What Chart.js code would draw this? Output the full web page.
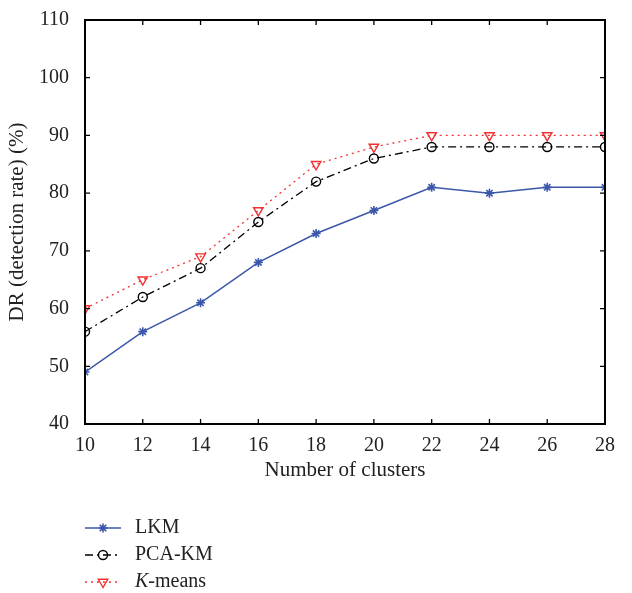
<!DOCTYPE html>
<html lang="en">
<head>
  <meta charset="UTF-8" />
  <title>DR vs number of clusters</title>
  <script src="https://cdn.jsdelivr.net/npm/chart.js@4.4.1/dist/chart.umd.min.js"></script>
  <style>
    html, body { margin: 0; padding: 0; background: #fff; }
    #wrap { width: 632px; height: 593px; position: relative; }
  </style>
</head>
<body>
  <div id="wrap"><canvas id="drChart"></canvas></div>

  <script>
    // Number of clusters on the x axis
    const clusters = [10, 12, 14, 16, 18, 20, 22, 24, 26, 28];

    // Detection rate (%) for each method
    const lkm = [49, 56, 61, 68, 73, 77, 81, 80, 81, 81];
    const pcaKm = [56, 62, 67, 75, 82, 86, 88, 88, 88, 88];
    const kMeans = [60, 65, 69, 77, 85, 88, 90, 90, 90, 90];

    const xTicks = [10, 12, 14, 16, 18, 20, 22, 24, 26, 28];
    const yTicks = [40, 50, 60, 70, 80, 90, 100, 110];

    const FONT = '"Liberation Serif", "DejaVu Serif", serif';
    const FS = 20;

    const toPoints = vals => vals.map((v, i) => ({ x: clusters[i], y: v }));

    // Box around the plot with short inward ticks on all four sides
    const framePlugin = {
      id: 'frame',
      afterDraw(chart) {
        const { ctx, chartArea: a, scales: { x, y } } = chart;
        const len = 5;
        ctx.save();
        ctx.strokeStyle = '#000';
        ctx.lineWidth = 2;
        ctx.strokeRect(a.left, a.top, a.right - a.left, a.bottom - a.top);
        ctx.lineWidth = 1.3;
        ctx.beginPath();
        xTicks.forEach(t => {
          const px = x.getPixelForValue(t);
          ctx.moveTo(px, a.bottom); ctx.lineTo(px, a.bottom - len);
          ctx.moveTo(px, a.top); ctx.lineTo(px, a.top + len);
        });
        yTicks.forEach(t => {
          const py = y.getPixelForValue(t);
          ctx.moveTo(a.left, py); ctx.lineTo(a.left + len, py);
          ctx.moveTo(a.right, py); ctx.lineTo(a.right - len, py);
        });
        ctx.stroke();
        ctx.restore();
      }
    };

    // Legend below the axis: short line sample with marker, then the label
    const legendPlugin = {
      id: 'lineLegend',
      afterDraw(chart) {
        const { ctx, chartArea: a } = chart;
        const x0 = a.left, x1 = a.left + 36, tx = a.left + 50;
        const rows = [a.bottom + 104, a.bottom + 131, a.bottom + 158];
        ctx.save();
        chart.data.datasets.forEach((ds, i) => {
          const yy = rows[i];
          ctx.strokeStyle = ds.borderColor;
          ctx.lineWidth = ds.borderWidth;
          ctx.setLineDash(ds.borderDash || []);
          ctx.beginPath();
          ctx.moveTo(x0, yy); ctx.lineTo(x1, yy);
          ctx.stroke();
          ctx.setLineDash([]);
          ctx.strokeStyle = ds.pointBorderColor;
          ctx.fillStyle = ds.pointBackgroundColor;
          ctx.lineWidth = ds.pointBorderWidth;
          Chart.helpers.drawPoint(ctx, {
            pointStyle: ds.pointStyle,
            radius: ds.pointRadius,
            rotation: ds.pointRotation || 0,
            borderWidth: ds.pointBorderWidth
          }, (x0 + x1) / 2, yy);

          ctx.fillStyle = '#222';
          ctx.textBaseline = 'middle';
          ctx.textAlign = 'left';
          if (ds.label === 'K-means') {
            ctx.font = 'italic ' + FS + 'px ' + FONT;
            ctx.fillText('K', tx, yy);
            const w = ctx.measureText('K').width;
            ctx.font = FS + 'px ' + FONT;
            ctx.fillText('-means', tx + w, yy);
          } else {
            ctx.font = FS + 'px ' + FONT;
            ctx.fillText(ds.label, tx, yy);
          }
        });
        ctx.restore();
      }
    };

    new Chart(document.getElementById('drChart'), {
      type: 'line',
      data: {
        datasets: [
          {
            label: 'LKM',
            data: toPoints(lkm),
            borderColor: '#3a57aa',
            borderWidth: 1.5,
            pointStyle: 'star',
            pointRadius: 4.5,
            pointBorderColor: '#3a57aa',
            pointBackgroundColor: '#3a57aa',
            pointBorderWidth: 1.6,
            tension: 0
          },
          {
            label: 'PCA-KM',
            data: toPoints(pcaKm),
            borderColor: '#000',
            borderWidth: 1.3,
            borderDash: [8, 4, 2, 4],
            pointStyle: 'circle',
            pointRadius: 4.5,
            pointBorderColor: '#000',
            pointBackgroundColor: 'rgba(0,0,0,0)',
            pointBorderWidth: 1.4,
            tension: 0
          },
          {
            label: 'K-means',
            data: toPoints(kMeans),
            borderColor: '#f23232',
            borderWidth: 1.3,
            borderDash: [2, 4],
            pointStyle: 'triangle',
            pointRotation: 180,
            pointRadius: 5.5,
            pointBorderColor: '#f23232',
            pointBackgroundColor: 'rgba(0,0,0,0)',
            pointBorderWidth: 1.4,
            tension: 0
          }
        ]
      },
      options: {
        responsive: true,
        maintainAspectRatio: false,
        animation: false,
        layout: { padding: { left: 0, right: 27, top: 14, bottom: 107 } },
        plugins: {
          legend: { display: false },
          tooltip: { enabled: false }
        },
        scales: {
          x: {
            type: 'linear',
            min: 10,
            max: 28,
            afterBuildTicks: s => { s.ticks = xTicks.map(v => ({ value: v })); },
            afterFit: s => { s.height = 62; },
            grid: { display: false },
            border: { display: false },
            ticks: { color: '#222', padding: 2, font: { family: FONT, size: FS } },
            title: {
              display: true,
              text: 'Number of clusters',
              color: '#222',
              padding: { bottom: 3 },
              font: { family: FONT, size: 21 }
            }
          },
          y: {
            min: 40,
            max: 110,
            afterBuildTicks: s => { s.ticks = yTicks.map(v => ({ value: v })); },
            afterFit: s => { s.width = 85; },
            grid: { display: false },
            border: { display: false },
            ticks: { color: '#222', padding: 8, font: { family: FONT, size: FS } },
            title: {
              display: true,
              text: 'DR (detection rate) (%)',
              color: '#222',
              padding: { top: 5 },
              font: { family: FONT, size: 21 }
            }
          }
        }
      },
      plugins: [framePlugin, legendPlugin]
    });
  </script>
</body>
</html>
